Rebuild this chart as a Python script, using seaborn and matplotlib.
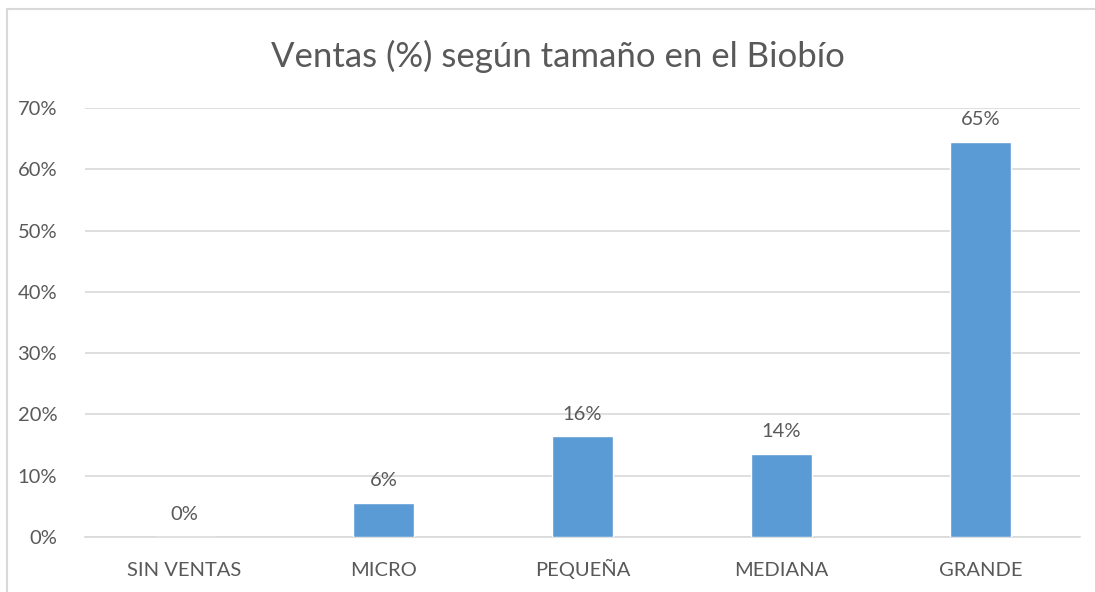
import pandas as pd
import numpy as np
import matplotlib.pyplot as plt
import seaborn as sns
from matplotlib.patches import Rectangle
from matplotlib.ticker import PercentFormatter

categorias = ['SIN VENTAS', 'MICRO', 'PEQUEÑA', 'MEDIANA', 'GRANDE']
ventas = [0.0, 0.055, 0.164, 0.136, 0.645]
etiquetas = ['0%', '6%', '16%', '14%', '65%']

BAR_COLOR = '#5B9BD5'
TEXT_COLOR = '#595959'
GRID_COLOR = '#D9D9D9'

sns.set_theme(style='white')
plt.rcParams['font.family'] = ['Lato', 'DejaVu Sans']

df = pd.DataFrame({'tamano': categorias, 'ventas': ventas})

fig = plt.figure(figsize=(10.95, 5.92), dpi=100)
ax = fig.add_axes([85 / 1095, 55 / 592, 995 / 1095, 429 / 592])

sns.barplot(data=df, x='tamano', y='ventas', color=BAR_COLOR, width=0.31,
            saturation=1, ax=ax, zorder=3)
ax.bar_label(ax.containers[0], labels=etiquetas, padding=10,
             fontsize=14.5, color=TEXT_COLOR)

ax.set_ylim(0, 0.7)
ax.set_yticks(np.arange(0, 0.71, 0.1))
ax.yaxis.set_major_formatter(PercentFormatter(1.0, decimals=0))
ax.grid(axis='y', color=GRID_COLOR, linewidth=1.2, zorder=0)
ax.set_xlabel('')
ax.set_ylabel('')
for s in ['top', 'right', 'left']:
    ax.spines[s].set_visible(False)
ax.spines['bottom'].set_color(GRID_COLOR)
ax.spines['bottom'].set_linewidth(1.2)
ax.tick_params(axis='both', length=0, labelsize=14.5, colors=TEXT_COLOR)
ax.tick_params(axis='x', pad=28)
ax.tick_params(axis='y', pad=20)
for lbl in ax.get_xticklabels():
    lbl.set_verticalalignment('baseline')

fig.text(558 / 1095, 1 - 56 / 592, 'Ventas (%) según tamaño en el Biobío',
         ha='center', va='center', fontsize=25, color=TEXT_COLOR)

# chart border
fig.patches.append(Rectangle((7 / 1095, -0.1), 1.2, 1 - 9 / 592 + 0.1,
                             transform=fig.transFigure, fill=False,
                             edgecolor=GRID_COLOR, linewidth=1.5))

fig.savefig('out.png', dpi=100)
